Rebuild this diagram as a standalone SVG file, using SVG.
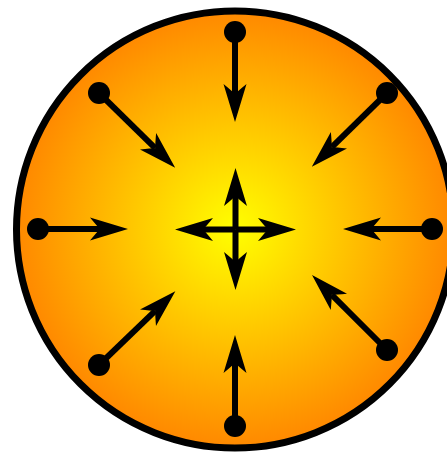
<svg xmlns="http://www.w3.org/2000/svg" width="447" height="455" viewBox="0 0 447 455">
<defs>
<radialGradient id="g" cx="235" cy="229" r="219" gradientUnits="userSpaceOnUse">
<stop offset="0" stop-color="#ffff00"/>
<stop offset="1" stop-color="#ff8800"/>
</radialGradient>
<marker id="ah" markerUnits="userSpaceOnUse" markerWidth="40" markerHeight="30" refX="0" refY="0" orient="auto" overflow="visible">
<path d="M28,0 L-10,-11.5 Q-3,-3 0,0 Q-3,3 -10,11.5 Z" fill="#000"/>
</marker>
<style>
.ln{stroke:#000;stroke-width:6;fill:none;marker-end:url(#ah)}
.dot{fill:#000}
</style>
</defs>
<g id="disc">
<circle cx="235" cy="229.5" r="218.5" fill="url(#g)" stroke="#000" stroke-width="7"/>
</g>
<g id="dots">
<circle class="dot" cx="235" cy="32" r="11"/>
<circle class="dot" cx="235" cy="426" r="11"/>
<circle class="dot" cx="38" cy="229" r="11"/>
<circle class="dot" cx="432" cy="229" r="11"/>
<circle class="dot" cx="99" cy="93" r="11"/>
<circle class="dot" cx="387" cy="93" r="11"/>
<circle class="dot" cx="387" cy="350" r="11"/>
<circle class="dot" cx="99" cy="365" r="11"/>
</g>
<g id="connectors">
<line class="ln" x1="235" y1="32" x2="235" y2="94"/>
<line class="ln" x1="235" y1="426" x2="235" y2="363"/>
<line class="ln" x1="38" y1="229" x2="100" y2="229"/>
<line class="ln" x1="432" y1="229" x2="371" y2="229"/>
<line class="ln" x1="99" y1="93" x2="155.2" y2="148.2"/>
<line class="ln" x1="387" y1="93" x2="331.8" y2="147.2"/>
<line class="ln" x1="387" y1="350" x2="331.8" y2="294.8"/>
<line class="ln" x1="99" y1="365" x2="155.2" y2="310.8"/>
<line class="ln" x1="235.5" y1="229.5" x2="235.5" y2="196"/>
<line class="ln" x1="235.5" y1="229.5" x2="235.5" y2="262"/>
<line class="ln" x1="235.5" y1="229.5" x2="203" y2="229.5"/>
<line class="ln" x1="235.5" y1="229.5" x2="268" y2="229.5"/>
</g>
</svg>
